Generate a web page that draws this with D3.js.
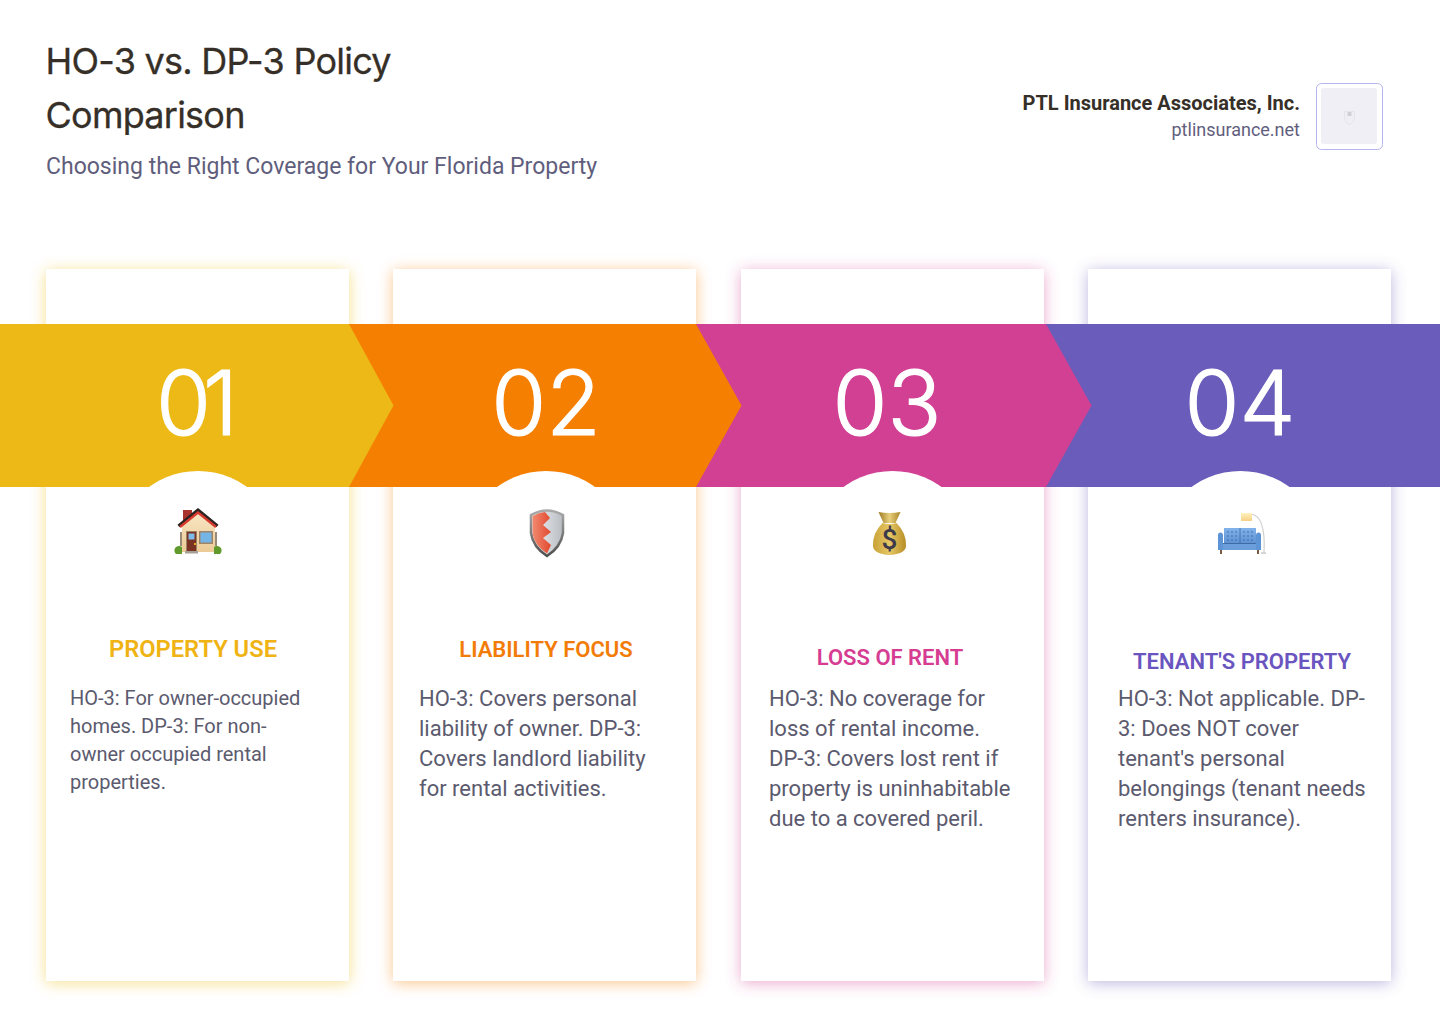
<!DOCTYPE html>
<html>
<head>
    <meta charset="utf-8">
    <title>HO-3 vs. DP-3 Policy Comparison</title>
    <script src="https://d3js.org/d3.v7.min.js"></script>
    <style>
        html, body { margin: 0; padding: 0; background: #fff; }
        svg { display: block; }
        text { font-family: Roboto, sans-serif; }
    </style>
</head>

<body>
<div id="chart"></div>

<script type="text/javascript">
    // data
    let titleLines = ["HO-3 vs. DP-3 Policy", "Comparison"];
    let subtitle = "Choosing the Right Coverage for Your Florida Property";
    let company = "PTL Insurance Associates, Inc.";
    let website = "ptlinsurance.net";
    let numbers = ["01", "02", "03", "04"];
    let headings = ["PROPERTY USE", "LIABILITY FOCUS", "LOSS OF RENT", "TENANT'S PROPERTY"];
    let bodies = [
        ["HO-3: For owner-occupied", "homes. DP-3: For non-", "owner occupied rental", "properties."],
        ["HO-3: Covers personal", "liability of owner. DP-3:", "Covers landlord liability", "for rental activities."],
        ["HO-3: No coverage for", "loss of rental income.", "DP-3: Covers lost rent if", "property is uninhabitable", "due to a covered peril."],
        ["HO-3: Not applicable. DP-", "3: Does NOT cover", "tenant's personal", "belongings (tenant needs", "renters insurance)."]
    ];
    let colors = ["#ecb916", "#f57f00", "#d14093", "#6a5cba"];
    let headingColors = ["#efb313", "#f27c07", "#d63c92", "#6a55c0"];

    // layout, each card was set a bit differently
    let W = 1440, H = 1024;
    let bandTop = 324, bandBottom = 487, bandMid = 405.5;
    let cardTop = 269, cardBottom = 981;
    let arrowStart = [0, 349, 696, 1046];
    let arrowTop = [349, 696, 1046, 1440];
    let arrowTip = [393.5, 741.5, 1091.5, 1440];
    let numberX = [193, 546, 887, 1240];
    let numberGap = [-8, 0, 0, 0];
    let circleX = [198, 546, 892.5, 1240.5];
    let iconX = [198, 546, 889.5, 1241];
    let headingX = [193, 546, 890, 1242];
    let headingY = [657, 657, 665, 669];
    let headingSize = [23.7, 22, 22, 22];
    let bodyX = [70, 419, 769, 1118];
    let bodyY = [705, 706, 706, 706];
    let bodySize = [20, 22, 22, 22];
    let bodyStep = [28, 30, 30, 30];

    let xScale = d3.scaleBand()
                    .domain(numbers)
                    .range([46, 1391])
                    .paddingInner(0.1275)
                    .paddingOuter(0);

    let svg = d3.select("#chart")
            .append("svg")
                .attr("width", W)
                .attr("height", H);

    let defs = svg.append("defs");

    colors.forEach((c, i) => {
        let f = defs.append("filter")
            .attr("id", "glow" + i)
            .attr("x", "-20%").attr("y", "-10%")
            .attr("width", "140%").attr("height", "120%");
        f.append("feDropShadow")
            .attr("dx", 0).attr("dy", 2)
            .attr("stdDeviation", 7.5)
            .attr("flood-color", c)
            .attr("flood-opacity", 0.45);
    });

    function gradient(id, stops, x2, y2) {
        let g = defs.append("linearGradient").attr("id", id)
            .attr("x1", 0).attr("y1", 0).attr("x2", x2).attr("y2", y2);
        stops.forEach((s, i) => g.append("stop")
            .attr("offset", i / (stops.length - 1))
            .attr("stop-color", s));
    }
    gradient("shieldRed", ["#f08a70", "#e2492f"], 1, 0);
    gradient("shieldWhite", ["#f2f3f5", "#b9bdc3"], 1, 0);
    gradient("shieldRim", ["#a9a9a9", "#4f4f4f"], 0, 1);
    gradient("bagFill", ["#c9a236", "#e6c766", "#b78d25"], 1, 0);
    gradient("bagNeck", ["#9c7a22", "#e9cf7d", "#a98624"], 1, 0);
    gradient("sofaFill", ["#82b2ea", "#5b90d2"], 0, 1);
    gradient("lampFill", ["#fff2bd", "#f6cf85"], 0, 1);
    gradient("wallFill", ["#f8e6c4", "#eccb96"], 0, 1);

    // header
    svg.selectAll(".title")
        .data(titleLines)
        .enter()
        .append("text")
            .attr("class", "title")
            .attr("x", 45.5)
            .attr("y", (d, i) => 74 + i * 54)
            .attr("fill", "#362f28")
            .attr("stroke", "#362f28")
            .attr("stroke-width", 0.3)
            .attr("font-size", "36px")
            .style("font-family", "Inter, sans-serif")
            .style("letter-spacing", "-0.75px")
            .text(d => d);

    svg.append("text")
        .attr("x", 46).attr("y", 174)
        .attr("fill", "#5f5e7c")
        .attr("font-size", "23px")
        .text(subtitle);

    svg.append("text")
        .attr("x", 1300).attr("y", 110)
        .attr("text-anchor", "end")
        .attr("fill", "#362f28")
        .attr("font-size", "20px")
        .attr("font-weight", 700)
        .text(company);

    svg.append("text")
        .attr("x", 1300).attr("y", 136)
        .attr("text-anchor", "end")
        .attr("fill", "#5f5e7c")
        .attr("font-size", "18px")
        .text(website);

    svg.append("rect")
        .attr("x", 1316.5).attr("y", 83.5)
        .attr("width", 66).attr("height", 66)
        .attr("rx", 5)
        .attr("fill", "#fff")
        .attr("stroke", "#b4b4f0");
    svg.append("rect")
        .attr("x", 1321).attr("y", 88)
        .attr("width", 56).attr("height", 56)
        .attr("rx", 3)
        .attr("fill", "#efeff5");
    svg.append("path")
        .attr("d", "M1344.500 111.500h10v6q0 5-5 7q-5-2-5-7z")
        .attr("fill", "#eeeef3")
        .attr("stroke", "#e4e4ea");
    svg.append("rect")
        .attr("x", 1347.5).attr("y", 112)
        .attr("width", 4).attr("height", 4)
        .attr("fill", "#cfcfd5");

    // cards
    svg.selectAll(".card")
        .data(numbers)
        .enter()
        .append("rect")
            .attr("class", "card")
            .attr("x", d => Math.round(xScale(d)))
            .attr("y", cardTop)
            .attr("width", Math.round(xScale.bandwidth()))
            .attr("height", cardBottom - cardTop)
            .attr("fill", "#fff")
            .attr("filter", (d, i) => "url(#glow" + i + ")");

    // arrows, flat back edge hidden under the tip of the one before
    svg.selectAll(".arrow")
        .data(numbers)
        .enter()
        .append("path")
            .attr("class", "arrow")
            .attr("fill", (d, i) => colors[i])
            .attr("d", (d, i) => "M" + arrowStart[i] + " " + bandTop +
                    "L" + arrowTop[i] + " " + bandTop +
                    "L" + arrowTip[i] + " " + bandMid +
                    "L" + arrowTop[i] + " " + bandBottom +
                    "L" + arrowStart[i] + " " + bandBottom + "Z");

    svg.selectAll(".arrow").filter((d, i) => i === 2).raise();
    svg.selectAll(".arrow").filter((d, i) => i === 1).raise();
    svg.selectAll(".arrow").filter((d, i) => i === 0).raise();

    // white bumps under the numbers
    let clip = defs.append("clipPath").attr("id", "bandClip");
    clip.append("rect")
        .attr("x", 0).attr("y", bandTop)
        .attr("width", W).attr("height", bandBottom - bandTop);

    svg.selectAll(".bump")
        .data(circleX)
        .enter()
        .append("circle")
            .attr("class", "bump")
            .attr("cx", d => d)
            .attr("cy", 554)
            .attr("r", 83)
            .attr("fill", "#fff")
            .attr("clip-path", "url(#bandClip)");

    // stroke thickens the light digits to the reference weight
    svg.selectAll(".num")
        .data(numbers)
        .enter()
        .append("text")
            .attr("class", "num")
            .attr("x", (d, i) => numberX[i])
            .attr("y", 435)
            .attr("text-anchor", "middle")
            .attr("fill", "#fff")
            .attr("stroke", "#fff")
            .attr("stroke-width", 1.2)
            .attr("font-size", "89px")
            .attr("font-weight", 300)
            .style("font-family", "Inter, sans-serif")
            .style("letter-spacing", (d, i) => numberGap[i] + "px")
            .text(d => d);

    svg.selectAll(".heading")
        .data(headings)
        .enter()
        .append("text")
            .attr("class", "heading")
            .attr("x", (d, i) => headingX[i])
            .attr("y", (d, i) => headingY[i])
            .attr("text-anchor", "middle")
            .attr("fill", (d, i) => headingColors[i])
            .attr("font-size", (d, i) => headingSize[i] + "px")
            .attr("font-weight", 600)
            .text(d => d);

    bodies.forEach((lines, c) => {
        svg.selectAll(".body" + c)
            .data(lines)
            .enter()
            .append("text")
                .attr("class", "body" + c)
                .attr("x", bodyX[c])
                .attr("y", (d, i) => bodyY[c] + i * bodyStep[c])
                .attr("fill", "#5b5a6e")
                .attr("font-size", bodySize[c] + "px")
                .text(d => d);
    });

    // icons
    function icon(i) {
        return svg.append("g").attr("transform", "translate(" + iconX[i] + ",532)");
    }
    function shape(g, d, fill, stroke, sw) {
        return g.append("path").attr("d", d).attr("fill", fill)
            .attr("stroke", stroke || "none").attr("stroke-width", sw || 0);
    }

    let house = icon(0);
    shape(house, "M-15-22h9v12h-9z", "#a9342b");
    shape(house, "M-18 0h2v14h-2zM17 0h2v14h-2z", "#9a8a78");
    shape(house, "M-16-6L0-20L17-6V20H-16z", "url(#wallFill)");
    shape(house, "M-19.500-6L0-22L19.500-6", "none", "#2b2320", 3.2);
    shape(house, "M-18-5L0-19.500L18-5", "none", "#d8392f", 2.4);
    shape(house, "M-12-1h11v20h-11z", "#a08468");
    shape(house, "M-11 0h9v19h-9z", "#7a3222");
    shape(house, "M-9.500 1.500h6v6h-6z", "#7dbce8");
    shape(house, "M-4 11h2v2h-2z", "#e0a92e");
    shape(house, "M1-1h14v13h-14z", "#a08468");
    shape(house, "M2.500 0.500h11v10h-11z", "#74b5e6");
    shape(house, "M-13 19h13v2.500h-13z", "#a79f95");
    shape(house, "M-22 22a4 4 0 0 1 6-7v7z", "#5f9a2a");
    shape(house, "M16 22v-7a4 4 0 0 1 6 7z", "#5f9a2a");

    let shield = icon(1);
    shape(shield, "M-15-17Q1-26 17-17V1Q15 15 1 24Q-13 15-15 1z", "url(#shieldWhite)", "url(#shieldRim)", 2.5);
    shape(shield, "M-13.500-16Q-7-19.500 -1-20L4-14L-3-7L5 0L-3 6L5 13L1 21.500Q-12 13-13.500 1z", "url(#shieldRed)");

    let bag = icon(2);
    shape(bag, "M-11-20Q0-18 11-20L6-9H-6z", "url(#bagNeck)");
    shape(bag, "M-7-9Q0-7 7-9Q17 1 16.500 14Q16 22 0 23Q-16 22-16.500 14Q-17 1-7-9z", "url(#bagFill)");
    bag.append("text")
        .attr("x", 0).attr("y", 17)
        .attr("text-anchor", "middle")
        .attr("fill", "#3d3a4a")
        .attr("font-size", "28px")
        .attr("font-weight", 500)
        .text("$");

    let sofa = icon(3);
    shape(sofa, "M10-18Q25-16 23 21", "none", "#cfcfcf", 1.2);
    shape(sofa, "M0-19h11v8h-11z", "url(#lampFill)");
    shape(sofa, "M-17-4h32v16h-32z", "url(#sofaFill)");
    shape(sofa, "M-23 3a2.500 2.500 0 0 1 5 0v15h-5z", "#5d94d6");
    shape(sofa, "M15 3a2.500 2.500 0 0 1 5 0v15h-5z", "#5d94d6");
    shape(sofa, "M-18 11h33v7h-33z", "#6b9fdc");
    shape(sofa, "M-18 11.500h33", "none", "#3f6aa3", 1);
    shape(sofa, "M-1-4v15", "none", "#3f6aa3", 0.8);
    shape(sofa, "M-21 18h2v4h-2zM16 18h2v4h-2z", "#7a5a40");
    shape(sofa, "M20 20h5v2h-5z", "#d5d5d5");
    [-13, -9, -5, 3, 7, 11].forEach(x => [0, 4, 8].forEach(y => {
        sofa.append("circle")
            .attr("cx", x).attr("cy", y).attr("r", 0.8)
            .attr("fill", "#3f6aa3");
    }));
</script>
</body>
</html>
